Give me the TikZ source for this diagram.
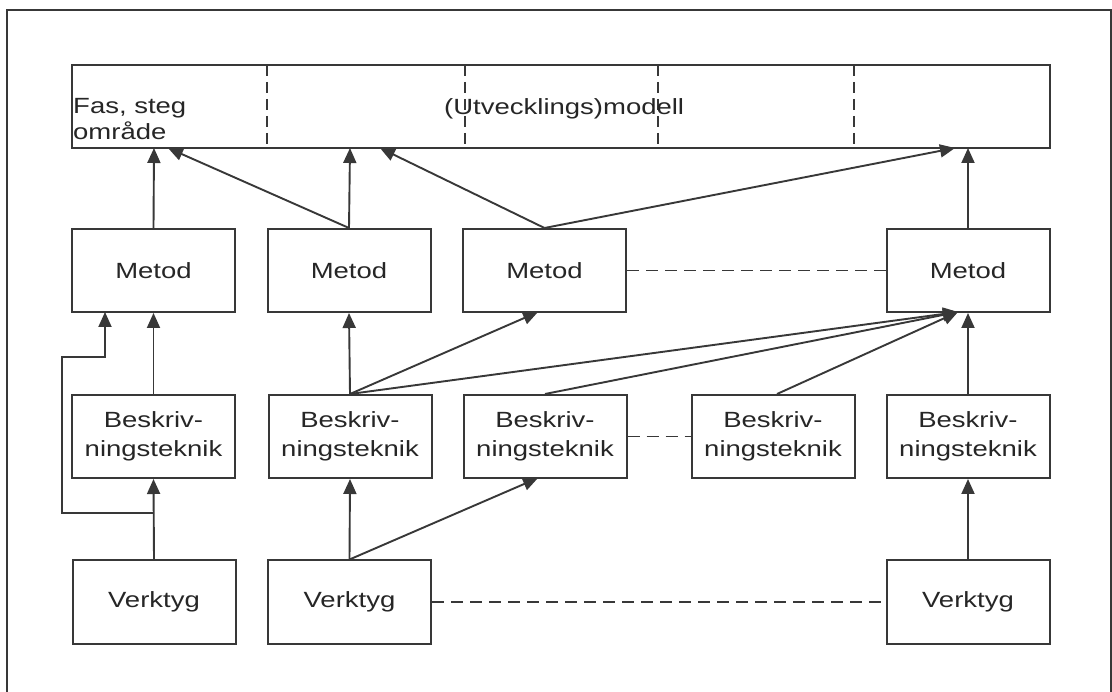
\documentclass[tikz,border=0pt]{standalone}
\usepackage{fontspec}
\usepackage{graphicx}
\setmainfont{Liberation Sans}
\usetikzlibrary{arrows.meta}
\newcommand\wide[1]{\scalebox{1.25}[1]{#1}}
\newcommand\twolines[2]{\scalebox{1.25}[1]{\begin{tabular}{@{}c@{}}#1\\#2\end{tabular}}}
\colorlet{ink}{black!78}
\tikzset{
  box/.style={draw=ink, line width=2pt, rectangle, minimum width=163pt, minimum height=83pt, inner sep=0pt, text=black!85, font=\fontsize{22}{29}\selectfont},
  conn/.style={draw=ink, line width=1.9pt, -{Triangle[length=15pt,width=13pt]}},
  hdash/.style={draw=ink, line width=1.9pt, dash pattern=on 12pt off 7pt},
  vdash/.style={draw=ink, line width=1.9pt, dash pattern=on 11pt off 6pt},
  lbl/.style={inner sep=0pt, text=black!85, font=\fontsize{22}{26}\selectfont},
}
\begin{document}
\begin{tikzpicture}[x=1pt,y=-1pt]
\useasboundingbox (0,0) rectangle (1112,692);
% outer frame
\draw[ink, line width=2pt] (7,692) -- (7,10) -- (1111,10) -- (1111,692);
% top box
\node[draw=ink, line width=2pt, minimum width=978pt, minimum height=83pt, inner sep=0pt] (top) at (561,106.5) {};
\draw[vdash] (267,65) -- (267,148);
\draw[vdash] (465,65) -- (465,148);
\draw[vdash] (658,65) -- (658,148);
\draw[vdash] (854,65) -- (854,148);
\node[lbl, anchor=base west] (fas1) at (73,114) {\wide{Fas, steg}};
\node[lbl, anchor=base west] (fas2) at (73,140) {\wide{område}};
\node[lbl, anchor=base west] (modell) at (444,115) {\wide{(Utvecklings)modell}};
% coordinates on top box bottom
\coordinate (t1) at (154,148);
\coordinate (t2) at (168,148);
\coordinate (t3) at (350,148);
\coordinate (t4) at (380,148);
\coordinate (t5) at (955,148);
\coordinate (t6) at (968,148);
% Metod row
\node[box] (m1) at (153.5,270.5) {\wide{Metod}};
\node[box] (m2) at (349,270.5) {\wide{Metod}};
\node[box] (m3) at (544.5,270.5) {\wide{Metod}};
\node[box] (m4) at (968,270.5) {\wide{Metod}};
% Beskriv row
\node[box] (b1) at (153.5,436.5) {\twolines{Beskriv-}{ningsteknik}};
\node[box] (b2) at (350,436.5) {\twolines{Beskriv-}{ningsteknik}};
\node[box] (b3) at (545,436.5) {\twolines{Beskriv-}{ningsteknik}};
\node[box] (b4) at (773,436.5) {\twolines{Beskriv-}{ningsteknik}};
\node[box] (b5) at (968,436.5) {\twolines{Beskriv-}{ningsteknik}};
% Verktyg row
\node[box] (v1) at (154,602) {\wide{Verktyg}};
\node[box] (v2) at (349.5,602) {\wide{Verktyg}};
\node[box] (v3) at (968,602) {\wide{Verktyg}};
% arrows to top box
\draw[conn] (m1.north) -- (t1);
\draw[conn] (m2.north) -- (t2);
\draw[conn] (m2.north) -- (t3);
\draw[conn] (m3.north) -- (t4);
\draw[conn] (m3.north) -- (t5);
\draw[conn] (m4.north) -- (t6);
% coordinates on Metod bottoms
\coordinate (m1a) at (105,312);
\coordinate (m3a) at (538,312);
\coordinate (m4a) at (958,312);
\coordinate (b3a) at (538,478);
\coordinate (j1) at (154,513);
% lower arrows
\draw[conn] (b1.north) -- (m1.south);
\draw[conn] (v1.north) -- (b1.south);
\draw[conn] (j1) -- (62,513) -- (62,357) -- (105,357) -- (m1a);
\draw[conn] (b2.north) -- (m2.south);
\draw[conn] (b2.north) -- (m3a);
\draw[conn] (b2.north) -- (m4a);
\draw[conn] (b3.north) -- (m4a);
\draw[conn] ([xshift=4pt]b4.north) -- (m4a);
\draw[conn] (b5.north) -- (m4.south);
\draw[conn] (v2.north) -- (b2.south);
\draw[conn] (v2.north) -- (b3a);
\draw[conn] (v3.north) -- (b5.south);
% dashed links
\draw[hdash] (m3.east) -- (m4.west);
\draw[hdash] (b3.east) -- (b4.west);
\draw[hdash] (v2.east) -- (v3.west);
\end{tikzpicture}
\end{document}
